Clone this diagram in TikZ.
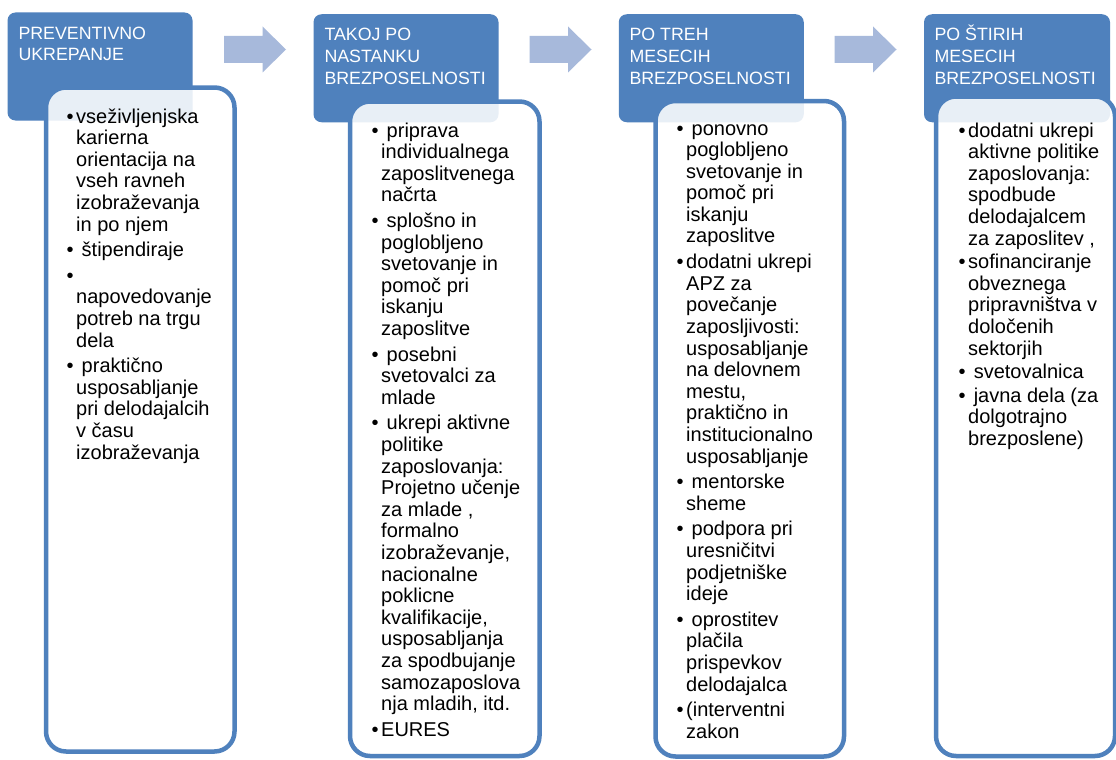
\documentclass[tikz,border=0pt]{standalone}
\usepackage{fontspec}
\setmainfont{Liberation Sans}
\definecolor{hdr}{RGB}{79,129,189}
\definecolor{arw}{RGB}{167,185,219}
\newcommand\bul{\llap{\textbullet\hspace{2.5pt}}}
\tikzset{
  hdrbox/.style={fill=hdr, rounded corners=8pt, inner sep=0pt, minimum width=185pt, minimum height=108pt},
  bodybox/.style={draw=hdr, line width=4.5pt, fill=white, fill opacity=0.875, draw opacity=1, rounded corners=20pt, inner sep=0pt},
  hdrtext/.style={anchor=base west, inner sep=0pt, text=white, font=\fontsize{17.8}{21.7}\selectfont},
  bodytext/.style={anchor=base west, inner sep=0pt, font=\fontsize{20}{21.6}\selectfont},
  flow/.style={fill=arw}
}
\newcommand\flowarrow[1]{%
  \fill[flow] (#1,36) -- (#1+38.5,36) -- (#1+38.5,26.5) -- (#1+62,49.5) -- (#1+38.5,72.5) -- (#1+38.5,63) -- (#1,63) -- cycle;}
\begin{document}
\begin{tikzpicture}[x=1pt,y=-1pt]
\fill[white] (0,0) rectangle (1116,760);
\useasboundingbox (0,0) rectangle (1116,760);
% headers
\node[hdrbox] (h1) at (100,66.5) {};
\node[hdrbox] (h2) at (406,68.25) {};
\node[hdrbox] (h3) at (711.25,68.25) {};
\node[hdrbox, minimum width=186pt] (h4) at (1017,68.25) {};
% arrows
\flowarrow{224}
\flowarrow{529.5}
\flowarrow{834.5}
% bodies
\node[bodybox, minimum width=188.5pt, minimum height=664pt] (b1) at (140.25,419.5) {};
\node[bodybox, minimum width=189.5pt, minimum height=654.5pt] (b2) at (444.75,428.75) {};
\node[bodybox, minimum width=188.5pt, minimum height=655.5pt] (b3) at (749.75,428.75) {};
\node[bodybox, minimum width=179pt, minimum height=659.5pt] (b4) at (1025.5,426.25) {};
% header texts
\node[hdrtext] (t1) at (18.3,39.3) {\begin{tabular}[t]{@{}l@{}}PREVENTIVNO\\UKREPANJE\end{tabular}};
\node[hdrtext] (t2) at (324.3,40.7) {\begin{tabular}[t]{@{}l@{}}TAKOJ PO\\NASTANKU\\BREZPOSELNOSTI\end{tabular}};
\node[hdrtext] (t3) at (629.3,40.7) {\begin{tabular}[t]{@{}l@{}}PO TREH\\MESECIH\\BREZPOSELNOSTI\end{tabular}};
\node[hdrtext] (t4) at (934.3,40.7) {\begin{tabular}[t]{@{}l@{}}PO ŠTIRIH\\MESECIH\\BREZPOSELNOSTI\end{tabular}};
% body texts
\node[bodytext] (c1) at (76,123) {\begin{tabular}[t]{@{}l@{}}
\bul vseživljenjska\\
karierna\\
orientacija na\\
vseh ravneh\\
izobraževanja\\
in po njem\\[4pt]
\bul\ štipendiraje\\[4pt]
\bul\\
napovedovanje\\
potreb na trgu\\
dela\\[4pt]
\bul\ praktično\\
usposabljanje\\
pri delodajalcih\\
v času\\
izobraževanja
\end{tabular}};
\node[bodytext] (c2) at (381,137) {\begin{tabular}[t]{@{}l@{}}
\bul\ priprava\\
individualnega\\
zaposlitvenega\\
načrta\\[4pt]
\bul\ splošno in\\
poglobljeno\\
svetovanje in\\
pomoč pri\\
iskanju\\
zaposlitve\\[4pt]
\bul\ posebni\\
svetovalci za\\
mlade\\[4pt]
\bul\ ukrepi aktivne\\
politike\\
zaposlovanja:\\
Projetno učenje\\
za mlade ,\\
formalno\\
izobraževanje,\\
nacionalne\\
poklicne\\
kvalifikacije,\\
usposabljanja\\
za spodbujanje\\
samozaposlova\\
nja mladih, itd.\\[4pt]
\bul EURES
\end{tabular}};
\node[bodytext] (c3) at (686,135) {\begin{tabular}[t]{@{}l@{}}
\bul\ ponovno\\
poglobljeno\\
svetovanje in\\
pomoč pri\\
iskanju\\
zaposlitve\\[4pt]
\bul dodatni ukrepi\\
APZ za\\
povečanje\\
zaposljivosti:\\
usposabljanje\\
na delovnem\\
mestu,\\
praktično in\\
institucionalno\\
usposabljanje\\[4pt]
\bul\ mentorske\\
sheme\\[4pt]
\bul\ podpora pri\\
uresničitvi\\
podjetniške\\
ideje\\[4pt]
\bul\ oprostitev\\
plačila\\
prispevkov\\
delodajalca\\[4pt]
\bul(interventni\\
zakon
\end{tabular}};
\node[bodytext] (c4) at (968,137) {\begin{tabular}[t]{@{}l@{}}
\bul dodatni ukrepi\\
aktivne politike\\
zaposlovanja:\\
spodbude\\
delodajalcem\\
za zaposlitev ,\\[2pt]
\bul sofinanciranje\\
obveznega\\
pripravništva v\\
določenih\\
sektorjih\\[2pt]
\bul\ svetovalnica\\[2pt]
\bul\ javna dela (za\\
dolgotrajno\\
brezposlene)
\end{tabular}};
\end{tikzpicture}
\end{document}
